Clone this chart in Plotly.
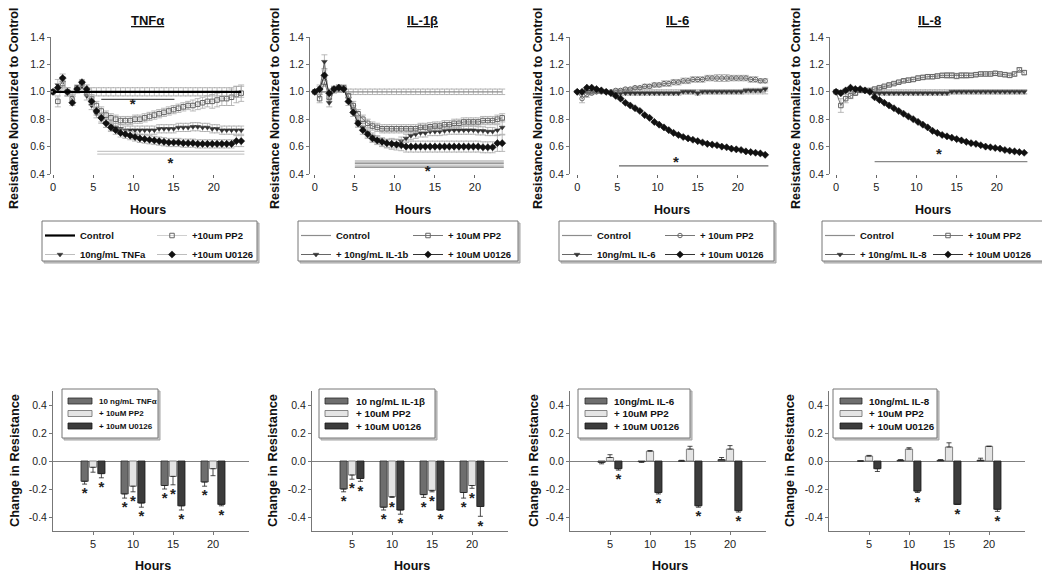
import plotly.graph_objects as go

W, H = 1050, 576
PAGE_OFFSET = 8  # default page margin around the figure
FONT = "Arial, 'Liberation Sans', sans-serif"

# ---------------- time-course data (top row) ----------------
HOURS = [0.0, 0.6, 1.2, 1.8, 2.4, 3.0, 3.6, 4.2, 4.8, 5.4,
         6.0, 6.6, 7.2, 7.8, 8.4, 9.0, 9.6, 10.2, 10.8, 11.4,
         12.0, 12.6, 13.2, 13.8, 14.4, 15.0, 15.6, 16.2, 16.8, 17.4,
         18.0, 18.6, 19.2, 19.8, 20.4, 21.0, 21.6, 22.2, 22.8, 23.4]

CONTROL = [1.0, 1.0, 1.0, 1.0, 1.0, 1.0, 1.0, 1.0, 1.0, 1.0,
           1.0, 1.0, 1.0, 1.0, 1.0, 1.0, 1.0, 1.0, 1.0, 1.0,
           1.0, 1.0, 1.0, 1.0, 1.0, 1.0, 1.0, 1.0, 1.0, 1.0,
           1.0, 1.0, 1.0, 1.0, 1.0, 1.0, 1.0, 1.0, 1.0, 1.0]

# TNFalpha panel
TNF_CTRL_ERR = [0.0, 0.0, 0.0, 0.0, 0.0, 0.0, 0.0, 0.0, 0.03, 0.03,
                0.03, 0.03, 0.03, 0.03, 0.03, 0.03, 0.03, 0.03, 0.03, 0.03,
                0.03, 0.03, 0.03, 0.03, 0.03, 0.03, 0.03, 0.03, 0.03, 0.03,
                0.03, 0.03, 0.03, 0.03, 0.03, 0.03, 0.03, 0.03, 0.04, 0.04]
TNF_TREAT = [1.00, 1.05, 1.07, 1.00, 0.96, 1.01, 1.04, 0.97, 0.90, 0.84,
             0.80, 0.77, 0.75, 0.74, 0.73, 0.72, 0.72, 0.72, 0.72, 0.72,
             0.72, 0.72, 0.73, 0.73, 0.73, 0.73, 0.74, 0.74, 0.74, 0.745,
             0.745, 0.74, 0.74, 0.73, 0.73, 0.72, 0.72, 0.72, 0.72, 0.72]
TNF_TREAT_ERR = [0.0, 0.04, 0.04, 0.03, 0.03, 0.02, 0.02, 0.03, 0.03, 0.03,
                 0.03, 0.03, 0.03, 0.03, 0.03, 0.03, 0.03, 0.03, 0.03, 0.03,
                 0.03, 0.03, 0.03, 0.03, 0.03, 0.03, 0.03, 0.03, 0.03, 0.03,
                 0.03, 0.03, 0.03, 0.03, 0.03, 0.03, 0.03, 0.03, 0.03, 0.03]
TNF_PP2 = [1.00, 0.93, 1.06, 1.00, 0.95, 1.03, 1.06, 1.00, 0.95, 0.90,
           0.86, 0.83, 0.81, 0.80, 0.79, 0.79, 0.79, 0.80, 0.80, 0.81,
           0.82, 0.83, 0.84, 0.85, 0.86, 0.87, 0.88, 0.89, 0.90, 0.90,
           0.91, 0.92, 0.93, 0.93, 0.94, 0.95, 0.95, 0.96, 0.98, 0.99]
TNF_PP2_ERR = [0.0, 0.04, 0.04, 0.03, 0.03, 0.02, 0.02, 0.03, 0.03, 0.03,
               0.03, 0.03, 0.03, 0.03, 0.03, 0.03, 0.03, 0.03, 0.03, 0.03,
               0.03, 0.03, 0.03, 0.03, 0.03, 0.03, 0.03, 0.03, 0.03, 0.04,
               0.04, 0.04, 0.04, 0.05, 0.05, 0.05, 0.05, 0.06, 0.06, 0.06]
TNF_U0126 = [1.00, 1.03, 1.10, 1.00, 0.92, 1.02, 1.07, 1.02, 0.93, 0.86,
             0.81, 0.77, 0.74, 0.72, 0.70, 0.69, 0.68, 0.67, 0.66, 0.655,
             0.65, 0.645, 0.64, 0.635, 0.63, 0.63, 0.63, 0.625, 0.625, 0.625,
             0.62, 0.62, 0.62, 0.62, 0.62, 0.62, 0.62, 0.62, 0.64, 0.64]
TNF_U0126_ERR = [0.0, 0.03, 0.03, 0.03, 0.02, 0.02, 0.02, 0.03, 0.03, 0.03,
                 0.03, 0.03, 0.03, 0.03, 0.03, 0.03, 0.03, 0.03, 0.03, 0.03,
                 0.03, 0.03, 0.03, 0.03, 0.03, 0.03, 0.03, 0.03, 0.03, 0.03,
                 0.03, 0.03, 0.03, 0.03, 0.03, 0.03, 0.03, 0.03, 0.04, 0.04]

# IL-1beta panel
IL1_CTRL_ERR = [0.0, 0.0, 0.0, 0.0, 0.0, 0.0, 0.0, 0.02, 0.02, 0.02,
                0.02, 0.02, 0.02, 0.02, 0.02, 0.02, 0.02, 0.02, 0.02, 0.02,
                0.02, 0.02, 0.02, 0.02, 0.02, 0.02, 0.02, 0.02, 0.02, 0.02,
                0.02, 0.02, 0.02, 0.02, 0.02, 0.02, 0.02, 0.02, 0.02, 0.02]
IL1_TREAT = [1.00, 1.01, 1.22, 0.92, 1.01, 1.02, 1.02, 0.95, 0.87, 0.78,
             0.74, 0.70, 0.67, 0.65, 0.63, 0.62, 0.62, 0.62, 0.64, 0.66,
             0.68, 0.69, 0.70, 0.70, 0.71, 0.71, 0.71, 0.715, 0.72, 0.72,
             0.72, 0.72, 0.72, 0.72, 0.715, 0.715, 0.71, 0.71, 0.72, 0.74]
IL1_TREAT_ERR = [0.0, 0.03, 0.05, 0.03, 0.02, 0.02, 0.02, 0.03, 0.03, 0.03,
                 0.03, 0.03, 0.03, 0.03, 0.03, 0.03, 0.03, 0.03, 0.03, 0.03,
                 0.03, 0.03, 0.03, 0.03, 0.03, 0.03, 0.03, 0.03, 0.03, 0.03,
                 0.03, 0.03, 0.03, 0.03, 0.03, 0.03, 0.03, 0.03, 0.04, 0.05]
IL1_PP2 = [1.00, 0.95, 1.07, 0.96, 1.02, 1.03, 1.03, 0.97, 0.90, 0.84,
           0.80, 0.77, 0.75, 0.74, 0.73, 0.73, 0.73, 0.73, 0.73, 0.73,
           0.73, 0.73, 0.74, 0.74, 0.745, 0.75, 0.75, 0.76, 0.76, 0.77,
           0.77, 0.78, 0.78, 0.78, 0.78, 0.79, 0.79, 0.79, 0.80, 0.81]
IL1_PP2_ERR = [0.0, 0.03, 0.03, 0.02, 0.02, 0.02, 0.02, 0.02, 0.03, 0.03,
               0.03, 0.03, 0.03, 0.03, 0.03, 0.03, 0.03, 0.03, 0.03, 0.03,
               0.03, 0.03, 0.03, 0.03, 0.03, 0.03, 0.03, 0.03, 0.03, 0.03,
               0.03, 0.03, 0.03, 0.03, 0.03, 0.03, 0.03, 0.03, 0.03, 0.03]
IL1_U0126 = [1.00, 1.02, 1.12, 0.99, 1.02, 1.03, 1.02, 0.93, 0.85, 0.77,
             0.72, 0.69, 0.66, 0.645, 0.635, 0.625, 0.62, 0.615, 0.61, 0.60,
             0.60, 0.60, 0.60, 0.60, 0.60, 0.60, 0.60, 0.60, 0.60, 0.60,
             0.60, 0.60, 0.60, 0.60, 0.60, 0.595, 0.595, 0.595, 0.625, 0.625]
IL1_U0126_ERR = [0.0, 0.03, 0.04, 0.03, 0.02, 0.02, 0.02, 0.03, 0.03, 0.03,
                 0.03, 0.03, 0.03, 0.03, 0.03, 0.03, 0.04, 0.04, 0.04, 0.04,
                 0.04, 0.04, 0.04, 0.04, 0.04, 0.04, 0.04, 0.04, 0.04, 0.04,
                 0.04, 0.04, 0.04, 0.04, 0.04, 0.04, 0.04, 0.04, 0.06, 0.06]

# IL-6 panel
IL6_CTRL_ERR = [0.0, 0.0, 0.0, 0.0, 0.0, 0.0, 0.0, 0.0, 0.015, 0.015,
                0.015, 0.015, 0.015, 0.015, 0.015, 0.015, 0.015, 0.015, 0.015, 0.015,
                0.015, 0.015, 0.015, 0.015, 0.015, 0.015, 0.015, 0.015, 0.015, 0.015,
                0.015, 0.015, 0.015, 0.015, 0.015, 0.015, 0.015, 0.015, 0.015, 0.015]
IL6_TREAT = [1.00, 0.99, 1.00, 1.00, 1.00, 1.00, 1.00, 0.99, 0.99, 0.99,
             0.99, 0.99, 0.99, 0.99, 0.99, 0.99, 0.99, 0.99, 0.99, 0.99,
             0.99, 0.99, 1.00, 1.00, 1.00, 0.99, 1.00, 1.00, 1.00, 1.00,
             1.00, 1.00, 1.00, 1.00, 1.00, 1.01, 1.01, 1.01, 1.01, 1.02]
IL6_TREAT_ERR = [0.0, 0.01, 0.01, 0.01, 0.01, 0.01, 0.01, 0.01, 0.01, 0.015,
                 0.015, 0.015, 0.015, 0.015, 0.015, 0.015, 0.015, 0.015, 0.015, 0.015,
                 0.015, 0.015, 0.015, 0.015, 0.015, 0.015, 0.015, 0.015, 0.015, 0.015,
                 0.015, 0.015, 0.015, 0.015, 0.015, 0.015, 0.015, 0.015, 0.015, 0.015]
IL6_PP2 = [1.00, 0.95, 0.98, 0.99, 1.00, 1.00, 1.00, 1.00, 1.01, 1.01,
           1.02, 1.02, 1.03, 1.03, 1.04, 1.04, 1.05, 1.05, 1.06, 1.06,
           1.07, 1.07, 1.08, 1.08, 1.09, 1.09, 1.09, 1.10, 1.10, 1.10,
           1.10, 1.10, 1.10, 1.10, 1.10, 1.10, 1.09, 1.09, 1.08, 1.08]
IL6_PP2_ERR = [0.0, 0.03, 0.02, 0.01, 0.01, 0.01, 0.01, 0.01, 0.01, 0.01,
               0.01, 0.01, 0.01, 0.01, 0.015, 0.015, 0.015, 0.015, 0.02, 0.02,
               0.02, 0.02, 0.02, 0.02, 0.02, 0.02, 0.02, 0.02, 0.02, 0.025,
               0.025, 0.025, 0.02, 0.02, 0.02, 0.02, 0.02, 0.02, 0.015, 0.015]
IL6_U0126 = [1.00, 1.00, 1.03, 1.03, 1.02, 1.01, 1.00, 0.99, 0.97, 0.95,
             0.92, 0.90, 0.88, 0.86, 0.83, 0.81, 0.78, 0.76, 0.74, 0.72,
             0.70, 0.685, 0.67, 0.66, 0.65, 0.64, 0.63, 0.62, 0.615, 0.61,
             0.60, 0.595, 0.585, 0.58, 0.575, 0.565, 0.56, 0.555, 0.55, 0.54]
IL6_U0126_ERR = [0.0, 0.005, 0.005, 0.005, 0.005, 0.005, 0.005, 0.005, 0.005, 0.005,
                 0.005, 0.005, 0.005, 0.005, 0.005, 0.005, 0.005, 0.005, 0.005, 0.005,
                 0.005, 0.005, 0.005, 0.005, 0.005, 0.005, 0.005, 0.005, 0.005, 0.005,
                 0.005, 0.005, 0.005, 0.005, 0.005, 0.005, 0.005, 0.005, 0.005, 0.005]

# IL-8 panel
IL8_CTRL_ERR = [0.0, 0.0, 0.0, 0.0, 0.0, 0.0, 0.0, 0.0, 0.015, 0.015,
                0.015, 0.015, 0.015, 0.015, 0.015, 0.015, 0.015, 0.015, 0.015, 0.015,
                0.015, 0.015, 0.015, 0.015, 0.015, 0.015, 0.015, 0.015, 0.015, 0.015,
                0.015, 0.015, 0.015, 0.015, 0.015, 0.015, 0.015, 0.015, 0.015, 0.015]
IL8_TREAT = [1.00, 1.00, 1.01, 1.02, 1.02, 1.01, 1.01, 1.00, 0.99, 0.99,
             0.99, 0.99, 0.99, 0.99, 0.99, 0.99, 0.99, 0.99, 0.99, 0.99,
             0.99, 0.99, 0.99, 0.99, 1.00, 1.00, 1.00, 1.00, 1.00, 1.00,
             1.00, 1.00, 1.00, 1.00, 1.00, 1.00, 1.00, 1.00, 1.00, 1.00]
IL8_TREAT_ERR = [0.0, 0.01, 0.01, 0.01, 0.01, 0.01, 0.01, 0.01, 0.01, 0.015,
                 0.015, 0.015, 0.015, 0.015, 0.015, 0.015, 0.015, 0.015, 0.015, 0.015,
                 0.015, 0.015, 0.015, 0.015, 0.015, 0.015, 0.015, 0.015, 0.015, 0.015,
                 0.015, 0.015, 0.015, 0.015, 0.015, 0.015, 0.015, 0.015, 0.015, 0.015]
IL8_PP2 = [1.00, 0.90, 0.95, 0.97, 0.99, 1.01, 1.01, 1.01, 1.02, 1.03,
           1.04, 1.05, 1.06, 1.07, 1.08, 1.085, 1.09, 1.10, 1.105, 1.11,
           1.11, 1.115, 1.12, 1.12, 1.12, 1.115, 1.12, 1.12, 1.12, 1.125,
           1.13, 1.13, 1.13, 1.135, 1.13, 1.125, 1.12, 1.13, 1.16, 1.14]
IL8_PP2_ERR = [0.0, 0.05, 0.03, 0.02, 0.01, 0.01, 0.01, 0.01, 0.01, 0.01,
               0.01, 0.01, 0.01, 0.01, 0.01, 0.015, 0.015, 0.015, 0.015, 0.015,
               0.015, 0.015, 0.015, 0.02, 0.02, 0.02, 0.02, 0.02, 0.015, 0.015,
               0.015, 0.015, 0.015, 0.015, 0.015, 0.015, 0.015, 0.015, 0.015, 0.015]
IL8_U0126 = [1.00, 0.99, 1.01, 1.03, 1.02, 1.02, 1.01, 1.00, 0.96, 0.94,
             0.92, 0.90, 0.88, 0.86, 0.84, 0.82, 0.80, 0.78, 0.76, 0.74,
             0.715, 0.70, 0.685, 0.675, 0.665, 0.655, 0.645, 0.635, 0.625, 0.62,
             0.61, 0.60, 0.595, 0.59, 0.585, 0.575, 0.57, 0.565, 0.56, 0.555]
IL8_U0126_ERR = [0.0, 0.005, 0.005, 0.005, 0.005, 0.005, 0.005, 0.005, 0.005, 0.005,
                 0.005, 0.005, 0.005, 0.005, 0.005, 0.005, 0.005, 0.005, 0.005, 0.005,
                 0.005, 0.005, 0.005, 0.005, 0.005, 0.005, 0.005, 0.005, 0.005, 0.005,
                 0.005, 0.005, 0.005, 0.005, 0.005, 0.005, 0.005, 0.005, 0.005, 0.005]

# significance bars (x start, x end, y, colour) and star positions (x, y)
TNF_SIG = [(6.0, 15.1, 0.945, "#555555"), (5.5, 23.8, 0.565, "#c8c8c8"), (5.5, 23.8, 0.545, "#c8c8c8")]
TNF_STARS = [(9.9, 0.905), (14.6, 0.47)]
IL1_SIG = [(5.0, 23.6, 0.495, "#bdbdbd"), (5.0, 23.6, 0.48, "#777777"),
           (5.0, 23.6, 0.465, "#bdbdbd"), (5.0, 23.6, 0.45, "#777777")]
IL1_STARS = [(14.1, 0.41)]
IL6_SIG = [(5.2, 23.8, 0.46, "#666666")]
IL6_STARS = [(12.3, 0.48)]
IL8_SIG = [(4.8, 23.8, 0.49, "#888888")]
IL8_STARS = [(12.8, 0.54)]

TITLES = ["TNFα", "IL-1β", "IL-6", "IL-8"]
TOP_NAMES = [["Control", "10ng/mL TNFa", "+10um PP2", "+10um U0126"],
             ["Control", "+ 10ng/mL IL-1b", "+ 10uM PP2", "+ 10uM U0126"],
             ["Control", "10ng/mL IL-6", "+ 10um PP2", "+ 10um U0126"],
             ["Control", "+ 10ng/mL IL-8", "+ 10uM PP2", "+ 10uM U0126"]]

# ---------------- bar data (bottom row) ----------------
BAR_HOURS = [5, 10, 15, 20]

TNF_BAR = [-0.145, -0.235, -0.175, -0.15]
TNF_BAR_ERR = [0.02, 0.03, 0.025, 0.03]
TNF_BAR_SIG = [1, 1, 1, 1]
TNF_BAR_PP2 = [-0.045, -0.18, -0.11, -0.055]
TNF_BAR_PP2_ERR = [0.035, 0.04, 0.06, 0.05]
TNF_BAR_PP2_SIG = [0, 1, 1, 0]
TNF_BAR_U0126 = [-0.09, -0.30, -0.32, -0.31]
TNF_BAR_U0126_ERR = [0.03, 0.03, 0.03, 0.01]
TNF_BAR_U0126_SIG = [1, 1, 1, 1]

IL1_BAR = [-0.20, -0.33, -0.24, -0.225]
IL1_BAR_ERR = [0.02, 0.02, 0.02, 0.04]
IL1_BAR_SIG = [1, 1, 1, 1]
IL1_BAR_PP2 = [-0.10, -0.255, -0.21, -0.175]
IL1_BAR_PP2_ERR = [0.03, 0.005, 0.01, 0.02]
IL1_BAR_PP2_SIG = [1, 1, 1, 1]
IL1_BAR_U0126 = [-0.125, -0.35, -0.35, -0.325]
IL1_BAR_U0126_ERR = [0.02, 0.03, 0.0, 0.07]
IL1_BAR_U0126_SIG = [1, 1, 1, 1]

IL6_BAR = [-0.01, -0.005, 0.0, 0.01]
IL6_BAR_ERR = [0.01, 0.005, 0.005, 0.015]
IL6_BAR_SIG = [0, 0, 0, 0]
IL6_BAR_PP2 = [0.025, 0.07, 0.085, 0.085]
IL6_BAR_PP2_ERR = [0.02, 0.005, 0.02, 0.025]
IL6_BAR_PP2_SIG = [0, 0, 0, 0]
IL6_BAR_U0126 = [-0.055, -0.225, -0.32, -0.355]
IL6_BAR_U0126_ERR = [0.01, 0.01, 0.01, 0.01]
IL6_BAR_U0126_SIG = [1, 1, 1, 1]

IL8_BAR = [0.0, 0.005, 0.005, 0.005]
IL8_BAR_ERR = [0.0, 0.005, 0.005, 0.015]
IL8_BAR_SIG = [0, 0, 0, 0]
IL8_BAR_PP2 = [0.035, 0.085, 0.10, 0.105]
IL8_BAR_PP2_ERR = [0.005, 0.01, 0.03, 0.0]
IL8_BAR_PP2_SIG = [0, 0, 0, 0]
IL8_BAR_U0126 = [-0.055, -0.215, -0.31, -0.345]
IL8_BAR_U0126_ERR = [0.02, 0.01, 0.0, 0.015]
IL8_BAR_U0126_SIG = [0, 1, 1, 1]

BAR_NAMES = [["10 ng/mL TNFα", "+ 10uM PP2", "+ 10uM U0126"],
             ["10 ng/mL IL-1β", "+ 10uM PP2", "+ 10uM U0126"],
             ["10ng/mL IL-6", "+ 10uM PP2", "+ 10uM U0126"],
             ["10ng/mL IL-8", "+ 10uM PP2", "+ 10uM U0126"]]

TOP_TICKS = [0.4, 0.6, 0.8, 1.0, 1.2, 1.4]
BOT_TICKS = [-0.4, -0.2, 0.0, 0.2, 0.4]
BOT_TICKTEXT = ["-0.4", "-0.2", "0.0", "0.2", "0.4"]
HOUR_TICKS = [0, 5, 10, 15, 20]

# ---------------- layout geometry (pixels in the photographed page) ----------------
def xp(px):
    return (px - PAGE_OFFSET) / W


def yp(py):
    return 1 - (py - PAGE_OFFSET) / H


TOP_X = [(51, 246, -0.25), (310, 507, -0.6), (570, 770, -0.9), (830, 1029, -0.75)]
TOP_Y = (37, 174)
BOT_X = [53, 312, 570, 829]
BOT_W = 196
BOT_Y = (391, 531)

TITLE_POS = [(147, 20), (422, 20), (677, 20), (930, 20)]
YT_TOP_X = [14, 275, 538, 796]
YT_TOP_Y = 108
YT_BOT_X = [14, 272, 533, 789]
HRS_TOP_X = [148, 413, 672, 933]
HRS_BOT_X = [153, 412, 670, 928]

# top legend placement: (col1 x, col2 x, box left, box right)
TOP_LEG = [(40, 152, 42, 257), (296, 408, 298, 518), (557, 660, 559, 774), (820, 928, 822, 1044)]
TOP_LEG_Y = (221, 261)
# bottom legend: (box left, box right, swatch left, swatch right, text x, font size)
BOT_LEG = [(62, 158, 68, 92, 97, 8), (319, 435, 325, 348, 354, 9.8),
           (578, 690, 585, 607, 612, 9.8), (833, 937, 840, 862, 867, 9.8)]
BOT_LEG_Y = (389, 438)
BOT_LEG_ROWS = [401, 413.5, 426]

fig = go.Figure()
layout = dict(
    width=W, height=H, margin=dict(l=0, r=0, t=0, b=0, pad=0, autoexpand=False),
    paper_bgcolor="white", plot_bgcolor="white",
    font=dict(family=FONT, color="#111"),
    showlegend=True, barmode="overlay",
    annotations=[], shapes=[],
)


def ann(text, x, y, size, angle=0, xanchor="center"):
    layout["annotations"].append(dict(text=text, x=xp(x), y=yp(y), xref="paper", yref="paper",
                                      xanchor=xanchor, yanchor="middle", showarrow=False, textangle=angle,
                                      font=dict(size=size, family=FONT, color="#111")))


def frame(l, r, t, b, layer):
    layout["shapes"].append(dict(type="rect", xref="paper", yref="paper", x0=xp(l + 2), x1=xp(r + 2),
                                 y0=yp(b + 2), y1=yp(t + 2), line=dict(color="#a5a5a5", width=1),
                                 fillcolor="#c8c8c8", layer=layer))
    layout["shapes"].append(dict(type="rect", xref="paper", yref="paper", x0=xp(l), x1=xp(r),
                                 y0=yp(b), y1=yp(t), line=dict(color="#777", width=1),
                                 fillcolor="white", layer=layer))


top_sets = [
    (TNF_CTRL_ERR, TNF_TREAT, TNF_TREAT_ERR, TNF_PP2, TNF_PP2_ERR, TNF_U0126, TNF_U0126_ERR, TNF_SIG, TNF_STARS),
    (IL1_CTRL_ERR, IL1_TREAT, IL1_TREAT_ERR, IL1_PP2, IL1_PP2_ERR, IL1_U0126, IL1_U0126_ERR, IL1_SIG, IL1_STARS),
    (IL6_CTRL_ERR, IL6_TREAT, IL6_TREAT_ERR, IL6_PP2, IL6_PP2_ERR, IL6_U0126, IL6_U0126_ERR, IL6_SIG, IL6_STARS),
    (IL8_CTRL_ERR, IL8_TREAT, IL8_TREAT_ERR, IL8_PP2, IL8_PP2_ERR, IL8_U0126, IL8_U0126_ERR, IL8_SIG, IL8_STARS),
]

pp2_symbols = ["square-open", "square-open", "circle-open", "square-open"]

for i, (cerr, tr, tre, pp, ppe, uu, uue, sig, stars) in enumerate(top_sets):
    n = i + 1
    xa, ya = f"x{n}", f"y{n}"
    l1 = "legend" if i == 0 else f"legend{2 * i + 1}"
    l2 = f"legend{2 * i + 2}"
    first = (i == 0)
    ctrl_line = dict(color="#000", width=2.2) if first else dict(color="#8c8c8c", width=1.2)
    conn = "#bdbdbd" if first else "#666"
    errc = "#a8a8a8"

    def eb(arr):
        return dict(type="data", array=arr, visible=True, color=errc, thickness=0.8, width=3)

    for sx0, sx1, sy, sc in sig:
        fig.add_trace(go.Scatter(x=[sx0, sx1], y=[sy, sy], mode="lines", line=dict(color=sc, width=1.3),
                                 xaxis=xa, yaxis=ya, showlegend=False, hoverinfo="skip"))
    fig.add_trace(go.Scatter(x=[s[0] for s in stars], y=[s[1] for s in stars], mode="text",
                             text=["<b>*</b>"] * len(stars),
                             textfont=dict(size=15, color="#222", family=FONT), xaxis=xa, yaxis=ya,
                             showlegend=False, hoverinfo="skip"))

    ctrl = go.Scatter(x=HOURS, y=CONTROL, mode="lines", line=ctrl_line, error_y=eb(cerr),
                      name=TOP_NAMES[i][0], legend=l1, legendrank=1, xaxis=xa, yaxis=ya)
    if not first:
        fig.add_trace(ctrl)
    fig.add_trace(go.Scatter(x=HOURS, y=tr, mode="lines+markers", line=dict(color=conn, width=1),
                             marker=dict(symbol="triangle-down", size=5, color="#333",
                                         line=dict(color="#333", width=0.5)),
                             error_y=eb(tre), name=TOP_NAMES[i][1], legend=l1, legendrank=2,
                             xaxis=xa, yaxis=ya))
    fig.add_trace(go.Scatter(x=HOURS, y=pp, mode="lines+markers",
                             line=dict(color=("#cfcfcf" if first else "#777"), width=1),
                             marker=dict(symbol=pp2_symbols[i], size=4.5, color="#666",
                                         line=dict(color="#666", width=1)),
                             error_y=eb(ppe), name=TOP_NAMES[i][2], legend=l2, legendrank=1,
                             xaxis=xa, yaxis=ya))
    fig.add_trace(go.Scatter(x=HOURS, y=uu, mode="lines+markers", line=dict(color=conn if first else "#333", width=1),
                             marker=dict(symbol="diamond", size=5.5, color="#111", line=dict(color="#111", width=0.5)),
                             error_y=eb(uue), name=TOP_NAMES[i][3], legend=l2, legendrank=2,
                             xaxis=xa, yaxis=ya))
    if first:
        fig.add_trace(ctrl)

    L, R, r0 = TOP_X[i]
    layout[f"xaxis{n if n > 1 else ''}"] = dict(
        domain=[xp(L), xp(R)], range=[r0, 24.0], anchor=ya, showline=False, showgrid=False, zeroline=False,
        ticks="outside", ticklen=3, tickcolor="#666", tickvals=HOUR_TICKS,
        tickfont=dict(size=11, family=FONT, color="#222"))
    layout[f"yaxis{n if n > 1 else ''}"] = dict(
        domain=[yp(TOP_Y[1]), yp(TOP_Y[0])], range=[0.4, 1.4], anchor=xa, showline=True, linecolor="#777",
        linewidth=1, showgrid=False, zeroline=False, ticks="outside", ticklen=3, tickcolor="#777",
        tickvals=TOP_TICKS, tickformat=".1f", tickfont=dict(size=10.5, family=FONT, color="#222"))

    c1, c2, bl, br = TOP_LEG[i]
    for lname, lx in ((l1, c1), (l2, c2)):
        layout[lname] = dict(x=xp(lx), y=yp(TOP_LEG_Y[0]), xanchor="left", yanchor="top",
                             bgcolor="rgba(0,0,0,0)", borderwidth=0, tracegroupgap=0,
                             font=dict(size=9.5, family=FONT, color="#111", weight="bold"))
    frame(bl, br, TOP_LEG_Y[0], TOP_LEG_Y[1], "below")

    tx, ty = TITLE_POS[i]
    ann(f"<b><u>{TITLES[i]}</u></b>", tx, ty, 13)
    ann("<b>Resistance Normalized to Control</b>", YT_TOP_X[i], YT_TOP_Y, 12.6, angle=-90)
    ann("<b>Hours</b>", HRS_TOP_X[i], 210, 12.5)

# ---------------- bottom row ----------------
bot_sets = [
    [(TNF_BAR, TNF_BAR_ERR, TNF_BAR_SIG), (TNF_BAR_PP2, TNF_BAR_PP2_ERR, TNF_BAR_PP2_SIG),
     (TNF_BAR_U0126, TNF_BAR_U0126_ERR, TNF_BAR_U0126_SIG)],
    [(IL1_BAR, IL1_BAR_ERR, IL1_BAR_SIG), (IL1_BAR_PP2, IL1_BAR_PP2_ERR, IL1_BAR_PP2_SIG),
     (IL1_BAR_U0126, IL1_BAR_U0126_ERR, IL1_BAR_U0126_SIG)],
    [(IL6_BAR, IL6_BAR_ERR, IL6_BAR_SIG), (IL6_BAR_PP2, IL6_BAR_PP2_ERR, IL6_BAR_PP2_SIG),
     (IL6_BAR_U0126, IL6_BAR_U0126_ERR, IL6_BAR_U0126_SIG)],
    [(IL8_BAR, IL8_BAR_ERR, IL8_BAR_SIG), (IL8_BAR_PP2, IL8_BAR_PP2_ERR, IL8_BAR_PP2_SIG),
     (IL8_BAR_U0126, IL8_BAR_U0126_ERR, IL8_BAR_U0126_SIG)],
]
BAR_COLORS = ["#6e6e6e", "#e4e4e4", "#3c3c3c"]
BAR_EDGES = ["#2a2a2a", "#6a6a6a", "#1a1a1a"]
BAR_OFFSETS = [-1.5, -0.45, 0.6]
BAR_WIDTH = 0.9

for i, series in enumerate(bot_sets):
    n = i + 5
    xa, ya = f"x{n}", f"y{n}"
    star_x, star_y = [], []
    for k, (vals, errs, sigs) in enumerate(series):
        plus = [e if v >= 0 else 0 for v, e in zip(vals, errs)]
        minus = [e if v < 0 else 0 for v, e in zip(vals, errs)]
        fig.add_trace(go.Bar(x=BAR_HOURS, y=vals, width=BAR_WIDTH, offset=BAR_OFFSETS[k],
                             marker=dict(color=BAR_COLORS[k], line=dict(color=BAR_EDGES[k], width=0.8)),
                             error_y=dict(type="data", symmetric=False, array=plus, arrayminus=minus,
                                          color="#222", thickness=0.8, width=2.5),
                             name=BAR_NAMES[i][k], showlegend=False, xaxis=xa, yaxis=ya))
        for h, v, e, s in zip(BAR_HOURS, vals, errs, sigs):
            if s:
                star_x.append(h + BAR_OFFSETS[k] + BAR_WIDTH / 2)
                star_y.append(v - e - 0.075)
    fig.add_trace(go.Scatter(x=star_x, y=star_y, mode="text", text=["<b>*</b>"] * len(star_x),
                             textfont=dict(size=15, color="#222", family=FONT), xaxis=xa, yaxis=ya,
                             showlegend=False, hoverinfo="skip"))
    L = BOT_X[i]
    layout[f"xaxis{n}"] = dict(
        domain=[xp(L), xp(L + BOT_W)], range=[0, 24.5], anchor=ya, showline=True, linecolor="#777",
        linewidth=1, showgrid=False, zeroline=False, ticks="outside", ticklen=3, tickcolor="#777",
        tickvals=[5, 10, 15, 20], tickfont=dict(size=11, family=FONT, color="#222"))
    layout[f"yaxis{n}"] = dict(
        domain=[yp(BOT_Y[1]), yp(BOT_Y[0])], range=[-0.5, 0.5], anchor=xa, showline=True, linecolor="#777",
        linewidth=1, showgrid=False, zeroline=True, zerolinecolor="#808080", zerolinewidth=1.3,
        ticks="outside", ticklen=3, tickcolor="#777", tickvals=BOT_TICKS, ticktext=BOT_TICKTEXT,
        tickfont=dict(size=10.5, family=FONT, color="#222"))

    # legend box drawn with the bar colours
    bl, br, sl, sr, tx, fs = BOT_LEG[i]
    frame(bl, br, BOT_LEG_Y[0], BOT_LEG_Y[1], "above")
    for k, row in enumerate(BOT_LEG_ROWS):
        layout["shapes"].append(dict(type="rect", xref="paper", yref="paper", x0=xp(sl), x1=xp(sr),
                                     y0=yp(row + 3), y1=yp(row - 3), fillcolor=BAR_COLORS[k],
                                     line=dict(color=BAR_EDGES[k], width=0.8), layer="above"))
        ann(f"<b>{BAR_NAMES[i][k]}</b>", tx, row, fs, xanchor="left")

    ann("<b>Change in Resistance</b>", YT_BOT_X[i], (BOT_Y[0] + BOT_Y[1]) / 2, 12.8, angle=-90)
    ann("<b>Hours</b>", HRS_BOT_X[i], 566, 12.5)

fig.update_layout(**layout)
fig.write_html("out.html")
